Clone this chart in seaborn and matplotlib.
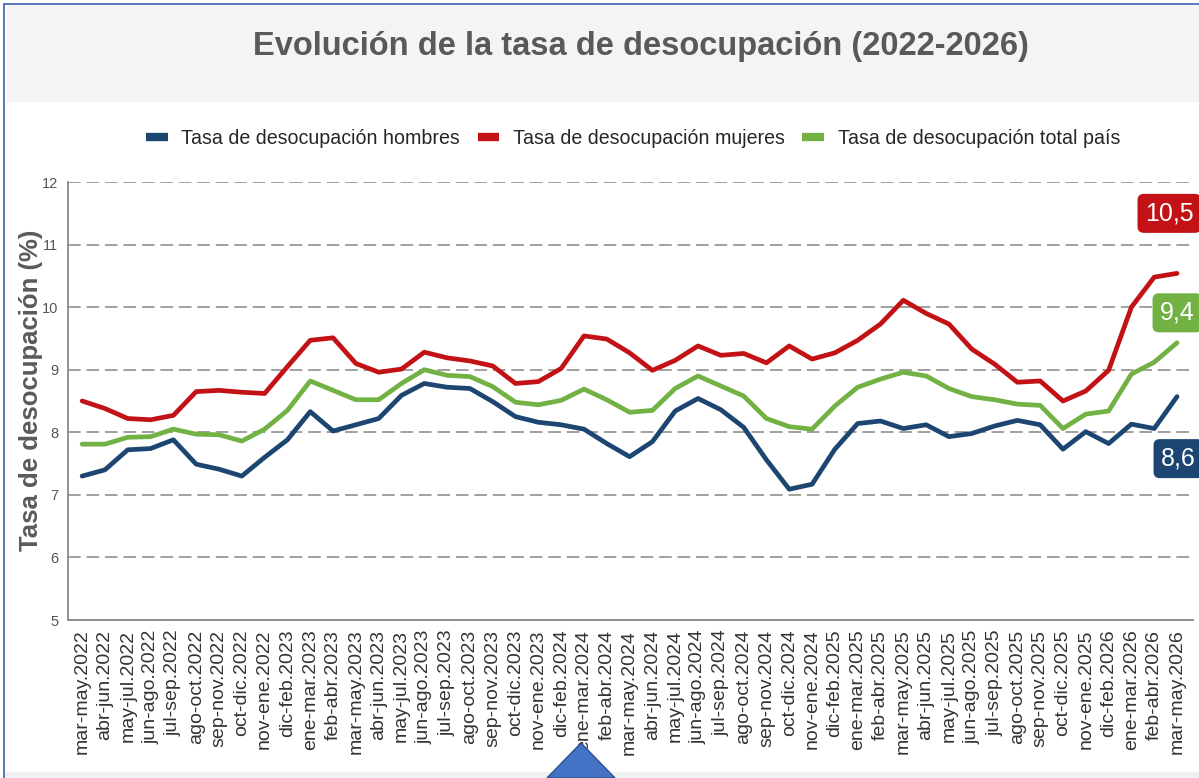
import pandas as pd
import matplotlib
matplotlib.use('Agg')
import matplotlib.pyplot as plt
import seaborn as sns
from matplotlib.lines import Line2D
from matplotlib.patches import Rectangle, Polygon

periodos = ['mar-may.2022', 'abr-jun.2022', 'may-jul.2022', 'jun-ago.2022', 'jul-sep.2022',
            'ago-oct.2022', 'sep-nov.2022', 'oct-dic.2022', 'nov-ene.2022', 'dic-feb.2023',
            'ene-mar.2023', 'feb-abr.2023', 'mar-may.2023', 'abr-jun.2023', 'may-jul.2023',
            'jun-ago.2023', 'jul-sep.2023', 'ago-oct.2023', 'sep-nov.2023', 'oct-dic.2023',
            'nov-ene.2023', 'dic-feb.2024', 'ene-mar.2024', 'feb-abr.2024', 'mar-may.2024',
            'abr-jun.2024', 'may-jul.2024', 'jun-ago.2024', 'jul-sep.2024', 'ago-oct.2024',
            'sep-nov.2024', 'oct-dic.2024', 'nov-ene.2024', 'dic-feb.2025', 'ene-mar.2025',
            'feb-abr.2025', 'mar-may.2025', 'abr-jun.2025', 'may-jul.2025', 'jun-ago.2025',
            'jul-sep.2025', 'ago-oct.2025', 'sep-nov.2025', 'oct-dic.2025', 'nov-ene.2025',
            'dic-feb.2026', 'ene-mar.2026', 'feb-abr.2026', 'mar-may.2026']

hombres = [7.30, 7.40, 7.72, 7.74, 7.88, 7.49, 7.41, 7.30, 7.60, 7.88,
           8.33, 8.02, 8.12, 8.22, 8.59, 8.78, 8.72, 8.70, 8.49, 8.25,
           8.16, 8.12, 8.05, 7.82, 7.61, 7.85, 8.34, 8.54, 8.36, 8.08,
           7.56, 7.09, 7.17, 7.73, 8.14, 8.18, 8.06, 8.12, 7.93, 7.98,
           8.10, 8.19, 8.12, 7.73, 8.01, 7.82, 8.13, 8.06, 8.57]

mujeres = [8.50, 8.38, 8.22, 8.20, 8.27, 8.65, 8.67, 8.64, 8.62, 9.05,
           9.47, 9.51, 9.10, 8.96, 9.01, 9.28, 9.19, 9.14, 9.06, 8.78,
           8.81, 9.02, 9.54, 9.49, 9.27, 8.99, 9.15, 9.38, 9.23, 9.26,
           9.11, 9.38, 9.17, 9.27, 9.47, 9.73, 10.11, 9.90, 9.73, 9.33,
           9.09, 8.80, 8.82, 8.50, 8.66, 8.99, 10.00, 10.48, 10.54]

total = [7.81, 7.81, 7.92, 7.93, 8.05, 7.97, 7.96, 7.86, 8.05, 8.35,
         8.82, 8.67, 8.52, 8.52, 8.78, 9.00, 8.91, 8.89, 8.73, 8.48,
         8.44, 8.51, 8.69, 8.52, 8.32, 8.35, 8.70, 8.90, 8.74, 8.58,
         8.22, 8.09, 8.05, 8.42, 8.72, 8.85, 8.96, 8.90, 8.70, 8.57,
         8.52, 8.45, 8.43, 8.06, 8.29, 8.34, 8.93, 9.12, 9.43]

series = ['Tasa de desocupación hombres', 'Tasa de desocupación mujeres',
          'Tasa de desocupación total país']
colores = ['#1c4671', '#c21216', '#72b244']
etiquetas_fin = ['8,6', '10,5', '9,4']

sns.set_style('white')
plt.rcParams['font.family'] = ['Liberation Sans', 'DejaVu Sans']

df = pd.DataFrame({'periodo': periodos * 3,
                   'tasa': hombres + mujeres + total,
                   'serie': [series[0]] * 49 + [series[1]] * 49 + [series[2]] * 49})
df['pos'] = list(range(49)) * 3

fig = plt.figure(figsize=(11.99, 7.78), dpi=100)
W, H = 1199, 778

# frame and title banner
fig.patches.append(Rectangle((7 / W, 1 - 102 / H), 1 - 7 / W, 97 / H, transform=fig.transFigure,
                             facecolor='#f4f4f4', edgecolor='none', zorder=0))
fig.lines.append(Line2D([4 / W, 4 / W], [0, 1 - 4 / H], transform=fig.transFigure, color='#4a6db3', lw=1.3))
fig.lines.append(Line2D([4 / W, 1], [1 - 4 / H, 1 - 4 / H], transform=fig.transFigure, color='#4a6db3', lw=1.3))
fig.patches.append(Rectangle((5 / W, 0), 1, 6 / H, transform=fig.transFigure,
                             facecolor='#eef1f2', edgecolor='none', zorder=0))

fig.text(641 / W, 1 - 46 / H, 'Evolución de la tasa de desocupación (2022-2026)',
         ha='center', va='center', fontsize=23.5, fontweight='bold', color='#595959')

ax = fig.add_axes([68 / W, 1 - 620 / H, (1193 - 68) / W, (620 - 182) / H])
sns.lineplot(data=df, x='pos', y='tasa', hue='serie', palette=colores, hue_order=series,
             linewidth=3.4, sort=False, legend=False, ax=ax)

ax.set_xlim(-0.62, 48.7)
ax.set_ylim(5, 12)
ax.set_yticks(range(5, 13))
ax.set_xticks(range(49))
ax.set_xticklabels(periodos, rotation=90, fontsize=14, color='#333333')
ax.tick_params(axis='y', labelsize=10.5, colors='#666666', length=5, width=1, pad=2, labelcolor='#555555')
ax.tick_params(axis='x', length=5, width=1, colors='#666666', pad=2, labelcolor='#333333')
ax.yaxis.grid(True, linestyle=(0, (6.5, 3)), color='#a0a0a0', linewidth=1.4)
ax.set_axisbelow(True)
for s in ['top', 'right']:
    ax.spines[s].set_visible(False)
for s in ['left', 'bottom']:
    ax.spines[s].set_color('#888888')
    ax.spines[s].set_linewidth(1.3)
ax.set_xlabel('')
ax.set_ylabel('Tasa de desocupación (%)', fontsize=18.5, fontweight='bold', color='#5a5a5a')
ax.yaxis.set_label_coords(-0.022, 0.525)

# end labels
offsets = [(-16, -62), (-32, 60), (-17, 30)]
ultimos = [hombres[-1], mujeres[-1], total[-1]]
for val, txt, col, off in zip(ultimos, etiquetas_fin, colores, offsets):
    ax.annotate(txt, xy=(48, val), xytext=off, textcoords='offset pixels',
                ha='left', va='center', fontsize=18, color='white', annotation_clip=False,
                bbox=dict(boxstyle='round,pad=0.3,rounding_size=0.25', facecolor=col, edgecolor='none'))

handles = [Line2D([0], [0], color=c, lw=6, solid_capstyle='butt') for c in colores]
fig.legend(handles, series, loc='center', bbox_to_anchor=(633 / W, 1 - 138 / H), ncol=3,
           frameon=False, fontsize=14.1, handlelength=1.1, columnspacing=0.9, handletextpad=0.7)

# pointer shape at bottom
fig.patches.append(Polygon([(547 / W, 0), (581 / W, 1 - 743 / H), (615 / W, 0)], closed=True,
                           transform=fig.transFigure, facecolor='#4472c4', edgecolor='#2f528f',
                           lw=1, zorder=5))

fig.savefig('out.png', dpi=100)
